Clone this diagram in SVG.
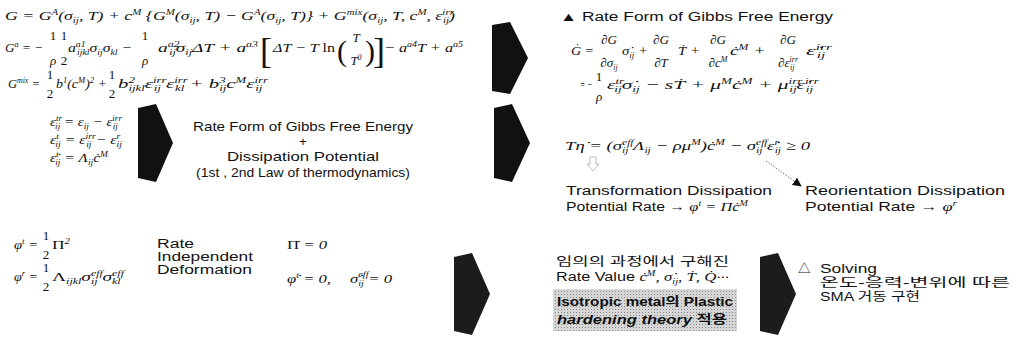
<svg xmlns="http://www.w3.org/2000/svg" width="1016" height="351" viewBox="0 0 1016 351">
<style>
.eq{font-family:"Liberation Serif","DejaVu Serif",serif;font-style:italic;font-size:13px;fill:#111}
.s{font-size:8px}
.up{font-style:normal}
.br{font-family:"Liberation Serif","DejaVu Serif",serif;font-style:normal;fill:#111}
.sans{font-family:"Liberation Sans","Noto Sans CJK KR",sans-serif;font-size:12.5px;fill:#111}
.big{font-size:13.5px}
.kr{font-family:"Liberation Sans","Noto Sans CJK KR",sans-serif;font-size:12.5px;fill:#111}
.b{font-weight:bold}
.i{font-style:italic}
.blk{fill:#111}
.blk2{fill:#1c1c1c}
</style>
<defs>
<pattern id="ht" width="3" height="3" patternUnits="userSpaceOnUse"><rect width="3" height="3" fill="#d6d6d6"/><rect width="1" height="1" fill="#8a8a8a"/></pattern>
<marker id="ah" viewBox="0 0 10 10" refX="9" refY="5" markerWidth="9" markerHeight="9" orient="auto" markerUnits="userSpaceOnUse"><path d="M0,0 L10,5 L0,10 z" fill="#111"/></marker>
</defs>
<rect width="1016" height="351" fill="#fff"/>

<g id="gibbs-def">
<text class="eq" x="5" y="20" textLength="450" lengthAdjust="spacingAndGlyphs">G = G<tspan class="s" dy="-5">A</tspan><tspan dy="5">(σ</tspan><tspan class="s" dy="3">ij</tspan><tspan dy="-3">, T) + c</tspan><tspan class="s" dy="-5">M</tspan><tspan dy="5"> {G</tspan><tspan class="s" dy="-5">M</tspan><tspan dy="5">(σ</tspan><tspan class="s" dy="3">ij</tspan><tspan dy="-3">, T) − G</tspan><tspan class="s" dy="-5">A</tspan><tspan dy="5">(σ</tspan><tspan class="s" dy="3">ij</tspan><tspan dy="-3">, T)} + G</tspan><tspan class="s" dy="-5">mix</tspan><tspan dy="5">(σ</tspan><tspan class="s" dy="3">ij</tspan><tspan dy="-3">, T, c</tspan><tspan class="s" dy="-5">M</tspan><tspan dy="5">, ε</tspan><tspan class="s" dy="-5">irr</tspan><tspan class="s" dx="-8" dy="8">ij</tspan><tspan dy="-3">)</tspan></text>

<text class="eq" x="5" y="52" textLength="38" lengthAdjust="spacingAndGlyphs">G<tspan class="s" dy="-5">a</tspan><tspan dy="5"> = −</tspan></text>
<text class="eq up" x="53" y="40" text-anchor="middle">1</text>
<text class="eq" x="53" y="65" text-anchor="middle">ρ</text>
<text class="eq up" x="64" y="40" text-anchor="middle">1</text>
<text class="eq up" x="64" y="65" text-anchor="middle">2</text>
<text class="eq" x="68" y="52" textLength="64" lengthAdjust="spacingAndGlyphs">a<tspan class="s" dy="-5">a1</tspan><tspan class="s" dx="-7" dy="8">ijkl</tspan><tspan dy="-3">σ</tspan><tspan class="s" dy="3">ij</tspan><tspan dy="-3">σ</tspan><tspan class="s" dy="3">kl</tspan><tspan dy="-3"> −</tspan></text>
<text class="eq up" x="145" y="40" text-anchor="middle">1</text>
<text class="eq" x="145" y="65" text-anchor="middle">ρ</text>
<text class="eq" x="158" y="52" textLength="100" lengthAdjust="spacingAndGlyphs">a<tspan class="s" dy="-5">a2</tspan><tspan class="s" dx="-7" dy="8">ij</tspan><tspan dy="-3">σ</tspan><tspan class="s" dy="3">ij</tspan><tspan dy="-3">ΔT + a</tspan><tspan class="s" dy="-5">a3</tspan></text>
<text class="br" x="260" y="63" font-size="36">[</text>
<text class="eq" x="273" y="52" textLength="62" lengthAdjust="spacingAndGlyphs">ΔT − T <tspan class="up">ln</tspan></text>
<text class="br" x="337" y="61" font-size="30">(</text>
<text class="eq" x="356" y="42" text-anchor="middle">T</text>
<text class="eq" x="356" y="65" text-anchor="middle">T<tspan class="s" dy="-5">0</tspan></text>
<text class="br" x="365" y="61" font-size="30">)</text>
<text class="br" x="373" y="63" font-size="36">]</text>
<text class="eq" x="384" y="52" textLength="79" lengthAdjust="spacingAndGlyphs">− a<tspan class="s" dy="-5">a4</tspan><tspan dy="5">T + a</tspan><tspan class="s" dy="-5">a5</tspan></text>

<text class="eq" x="8" y="88" textLength="32" lengthAdjust="spacingAndGlyphs">G<tspan class="s" dy="-5">mix</tspan><tspan dy="5"> =</tspan></text>
<text class="eq up" x="50" y="79" text-anchor="middle">1</text>
<text class="eq up" x="50" y="98" text-anchor="middle">2</text>
<text class="eq" x="56" y="88" textLength="51" lengthAdjust="spacingAndGlyphs">b<tspan class="s" dy="-5">1</tspan><tspan dy="5">(c</tspan><tspan class="s" dy="-5">M</tspan><tspan dy="5">)</tspan><tspan class="s" dy="-5">2</tspan><tspan dy="5"> +</tspan></text>
<text class="eq up" x="112" y="79" text-anchor="middle">1</text>
<text class="eq up" x="112" y="98" text-anchor="middle">2</text>
<text class="eq" x="118" y="88" textLength="150" lengthAdjust="spacingAndGlyphs">b<tspan class="s" dy="-5">2</tspan><tspan class="s" dx="-4" dy="8">ijkl</tspan><tspan dy="-3">ε</tspan><tspan class="s" dy="-5">irr</tspan><tspan class="s" dx="-8" dy="8">ij</tspan><tspan dy="-3"> ε</tspan><tspan class="s" dy="-5">irr</tspan><tspan class="s" dx="-8" dy="8">kl</tspan><tspan dy="-3"> + b</tspan><tspan class="s" dy="-5">3</tspan><tspan class="s" dx="-4" dy="8">ij</tspan><tspan dy="-3">c</tspan><tspan class="s" dy="-5">M</tspan><tspan dy="5">ε</tspan><tspan class="s" dy="-5">irr</tspan><tspan class="s" dx="-8" dy="8">ij</tspan></text>
</g>

<g id="rate-form">
<text class="sans" x="560" y="21" textLength="273" lengthAdjust="spacingAndGlyphs">▲ Rate Form of Gibbs Free Energy</text>
<text class="eq" x="571" y="55" textLength="23" lengthAdjust="spacingAndGlyphs">Ġ =</text>
<text class="eq" x="609" y="44" text-anchor="middle">∂G</text>
<text class="eq" x="609" y="67" text-anchor="middle">∂σ<tspan class="s" dy="3">ij</tspan></text>
<text class="eq" x="622" y="55" textLength="26" lengthAdjust="spacingAndGlyphs">σ̇<tspan class="s" dy="3">ij</tspan><tspan dy="-3"> +</tspan></text>
<text class="eq" x="661" y="44" text-anchor="middle">∂G</text>
<text class="eq" x="661" y="67" text-anchor="middle">∂T</text>
<text class="eq" x="678" y="55" textLength="22" lengthAdjust="spacingAndGlyphs">Ṫ +</text>
<text class="eq" x="718" y="44" text-anchor="middle">∂G</text>
<text class="eq" x="718" y="67" text-anchor="middle">∂c<tspan class="s" dy="-5">M</tspan></text>
<text class="eq" x="730" y="55" textLength="36" lengthAdjust="spacingAndGlyphs">ċ<tspan class="s" dy="-5">M</tspan><tspan dy="5"> +</tspan></text>
<text class="eq" x="788" y="44" text-anchor="middle">∂G</text>
<text class="eq" x="788" y="67" text-anchor="middle">∂ε<tspan class="s" dy="-5">irr</tspan><tspan class="s" dx="-8" dy="8">ij</tspan></text>
<text class="eq" x="806" y="55" textLength="26" lengthAdjust="spacingAndGlyphs">ε̇<tspan class="s" dy="-5">irr</tspan><tspan class="s" dx="-8" dy="8">ij</tspan></text>
<text class="eq" x="580" y="89" textLength="12" lengthAdjust="spacingAndGlyphs">= −</text>
<text class="eq up" x="599" y="81" text-anchor="middle">1</text>
<text class="eq" x="599" y="101" text-anchor="middle">ρ</text>
<text class="eq" x="607" y="89" textLength="212" lengthAdjust="spacingAndGlyphs">ε<tspan class="s" dy="-5">tr</tspan><tspan class="s" dx="-6" dy="8">ij</tspan><tspan dy="-3">σ̇</tspan><tspan class="s" dy="3">ij</tspan><tspan dy="-3"> − sṪ + μ</tspan><tspan class="s" dy="-5">M</tspan><tspan dy="5">ċ</tspan><tspan class="s" dy="-5">M</tspan><tspan dy="5"> + μ</tspan><tspan class="s" dy="-5">irr</tspan><tspan class="s" dx="-8" dy="8">ij</tspan><tspan dy="-3">ε̇</tspan><tspan class="s" dy="-5">irr</tspan><tspan class="s" dx="-8" dy="8">ij</tspan></text>
</g>

<g id="strain-decomposition">
<text class="eq" x="50" y="126" textLength="72" lengthAdjust="spacingAndGlyphs">ε<tspan class="s" dy="-5">tr</tspan><tspan class="s" dx="-6" dy="8">ij</tspan><tspan dy="-3"> = ε</tspan><tspan class="s" dy="3">ij</tspan><tspan dy="-3"> − ε</tspan><tspan class="s" dy="-5">irr</tspan><tspan class="s" dx="-8" dy="8">ij</tspan></text>
<text class="eq" x="50" y="144" textLength="72" lengthAdjust="spacingAndGlyphs">ε<tspan class="s" dy="-5">t</tspan><tspan class="s" dx="-3" dy="8">ij</tspan><tspan dy="-3"> = ε</tspan><tspan class="s" dy="-5">irr</tspan><tspan class="s" dx="-8" dy="8">ij</tspan><tspan dy="-3"> − ε</tspan><tspan class="s" dy="-5">r</tspan><tspan class="s" dx="-3" dy="8">ij</tspan></text>
<text class="eq" x="50" y="162" textLength="58" lengthAdjust="spacingAndGlyphs">ε̇<tspan class="s" dy="-5">t</tspan><tspan class="s" dx="-3" dy="8">ij</tspan><tspan dy="-3"> = Λ</tspan><tspan class="s" dy="3">ij</tspan><tspan dy="-3">ċ</tspan><tspan class="s" dy="-5">M</tspan></text>
</g>

<g id="rate-dissipation">
<text class="sans big" x="193" y="131" textLength="220" lengthAdjust="spacingAndGlyphs">Rate Form of Gibbs Free Energy</text>
<text class="sans big" x="303" y="146" text-anchor="middle">+</text>
<text class="sans big" x="227" y="161" textLength="152" lengthAdjust="spacingAndGlyphs">Dissipation Potential</text>
<text class="sans big" x="196" y="177" textLength="214" lengthAdjust="spacingAndGlyphs">(1st , 2nd Law of thermodynamics)</text>
</g>

<g id="dissipation-inequality">
<text class="eq" x="565" y="150" textLength="245" lengthAdjust="spacingAndGlyphs">Tη̇ = (σ<tspan class="s" dy="-5">eff</tspan><tspan class="s" dx="-8" dy="8">ij</tspan><tspan dy="-3"> Λ</tspan><tspan class="s" dy="3">ij</tspan><tspan dy="-3"> − ρμ</tspan><tspan class="s" dy="-5">M</tspan><tspan dy="5">)ċ</tspan><tspan class="s" dy="-5">M</tspan><tspan dy="5"> − σ</tspan><tspan class="s" dy="-5">eff</tspan><tspan class="s" dx="-8" dy="8">ij</tspan><tspan dy="-3"> ε̇</tspan><tspan class="s" dy="-5">r</tspan><tspan class="s" dx="-3" dy="8">ij</tspan><tspan dy="-3"> ≥ 0</tspan></text>
</g>

<g id="transformation-dissipation">
<text class="sans" x="566" y="195" textLength="206" lengthAdjust="spacingAndGlyphs">Transformation Dissipation</text>
<text class="sans" x="566" y="211" textLength="182" lengthAdjust="spacingAndGlyphs">Potential Rate → <tspan class="eq">φ</tspan><tspan class="eq s" dy="-5">t</tspan><tspan class="eq" dy="5"> = Πċ</tspan><tspan class="eq s" dy="-5">M</tspan></text>
</g>

<g id="reorientation-dissipation">
<text class="sans" x="805" y="195" textLength="200" lengthAdjust="spacingAndGlyphs">Reorientation Dissipation</text>
<text class="sans" x="805" y="211" textLength="152" lengthAdjust="spacingAndGlyphs">Potential Rate → <tspan class="eq">φ</tspan><tspan class="eq s" dy="-5">r</tspan></text>
</g>

<g id="dissipation-potentials">
<text class="eq" x="14" y="249" textLength="24" lengthAdjust="spacingAndGlyphs">φ<tspan class="s" dy="-5">t</tspan><tspan dy="5"> =</tspan></text>
<text class="eq up" x="46" y="240" text-anchor="middle">1</text>
<text class="eq up" x="46" y="259" text-anchor="middle">2</text>
<text class="eq" x="52" y="249" textLength="18" lengthAdjust="spacingAndGlyphs"><tspan class="up">Π</tspan><tspan class="s" dy="-5">2</tspan></text>
<text class="eq" x="14" y="281" textLength="24" lengthAdjust="spacingAndGlyphs">φ<tspan class="s" dy="-5">r</tspan><tspan dy="5"> =</tspan></text>
<text class="eq up" x="46" y="272" text-anchor="middle">1</text>
<text class="eq up" x="46" y="291" text-anchor="middle">2</text>
<text class="eq" x="52" y="281" textLength="72" lengthAdjust="spacingAndGlyphs"><tspan class="up">Λ</tspan><tspan class="s" dy="3">ijkl</tspan><tspan dy="-3">σ</tspan><tspan class="s" dy="-5">eff</tspan><tspan class="s" dx="-8" dy="8">ij</tspan><tspan dy="-3"> σ</tspan><tspan class="s" dy="-5">eff</tspan><tspan class="s" dx="-8" dy="8">kl</tspan></text>
</g>

<g id="rate-independent">
<text class="sans" x="157" y="248" textLength="37" lengthAdjust="spacingAndGlyphs">Rate</text>
<text class="sans" x="157" y="261" textLength="96" lengthAdjust="spacingAndGlyphs">Independent</text>
<text class="sans" x="157" y="274" textLength="95" lengthAdjust="spacingAndGlyphs">Deformation</text>
</g>

<g id="rate-conditions">
<text class="eq" x="287" y="249" textLength="40" lengthAdjust="spacingAndGlyphs"><tspan class="up">Π̇</tspan> = 0</text>
<text class="eq" x="287" y="283" textLength="44" lengthAdjust="spacingAndGlyphs">φ̇<tspan class="s" dy="-5">t</tspan><tspan dy="5"> = 0,</tspan></text>
<text class="eq" x="350" y="283" textLength="42" lengthAdjust="spacingAndGlyphs">σ̇<tspan class="s" dy="-6">eff</tspan><tspan class="s" dx="-8" dy="9">ij</tspan><tspan dy="-3"> = 0</tspan></text>
</g>

<g id="rate-values">
<text class="kr" x="556" y="266" textLength="173" lengthAdjust="spacingAndGlyphs">임의의 과정에서 구해진</text>
<text class="sans" x="556" y="281" textLength="173" lengthAdjust="spacingAndGlyphs">Rate Value <tspan class="eq">ċ</tspan><tspan class="eq s" dy="-5">M</tspan><tspan class="eq" dy="5">, σ̇</tspan><tspan class="eq s" dy="3">ij</tspan><tspan class="eq" dy="-3">, Ṫ, Q̇···</tspan></text>
</g>

<g id="plastic-hardening">
<rect x="553" y="289" width="184" height="42" fill="url(#ht)"/>
<text class="kr b" x="557" y="306" textLength="176" lengthAdjust="spacingAndGlyphs">Isotropic metal의 Plastic</text>
<text class="kr b" x="557" y="324" textLength="170" lengthAdjust="spacingAndGlyphs"><tspan class="i">hardening theory</tspan> 적용</text>
</g>

<g id="solving">
<text class="sans" x="798" y="273">△</text>
<text class="sans" x="820" y="273" textLength="57" lengthAdjust="spacingAndGlyphs">Solving</text>
<text class="kr" x="820" y="287" textLength="190" lengthAdjust="spacingAndGlyphs">온도-응력-변위에 따른</text>
<text class="kr" x="820" y="301" textLength="100" lengthAdjust="spacingAndGlyphs">SMA 거동 구현</text>
</g>

<g id="connectors">
<polygon class="blk" points="492,25 510,22 528,58 510,94 492,91"/>
<polygon class="blk" points="138,108 156,104 173,143 156,182 138,178"/>
<polygon class="blk" points="494,108 512,104 530,143 512,182 494,178"/>
<polygon class="blk2" points="454,257 472,253 490,294 472,335 454,331"/>
<polygon class="blk2" points="760,257 778,253 796,294 778,335 760,331"/>
<path d="M590,157 h6 v7 h3 l-6,7 l-6,-7 h3 z" fill="none" stroke="#aaa" stroke-width="0.8"/>
<line x1="766" y1="161" x2="801" y2="186" stroke="#777" stroke-width="1" stroke-dasharray="1.5 1.5" marker-end="url(#ah)"/>
</g>
</svg>
